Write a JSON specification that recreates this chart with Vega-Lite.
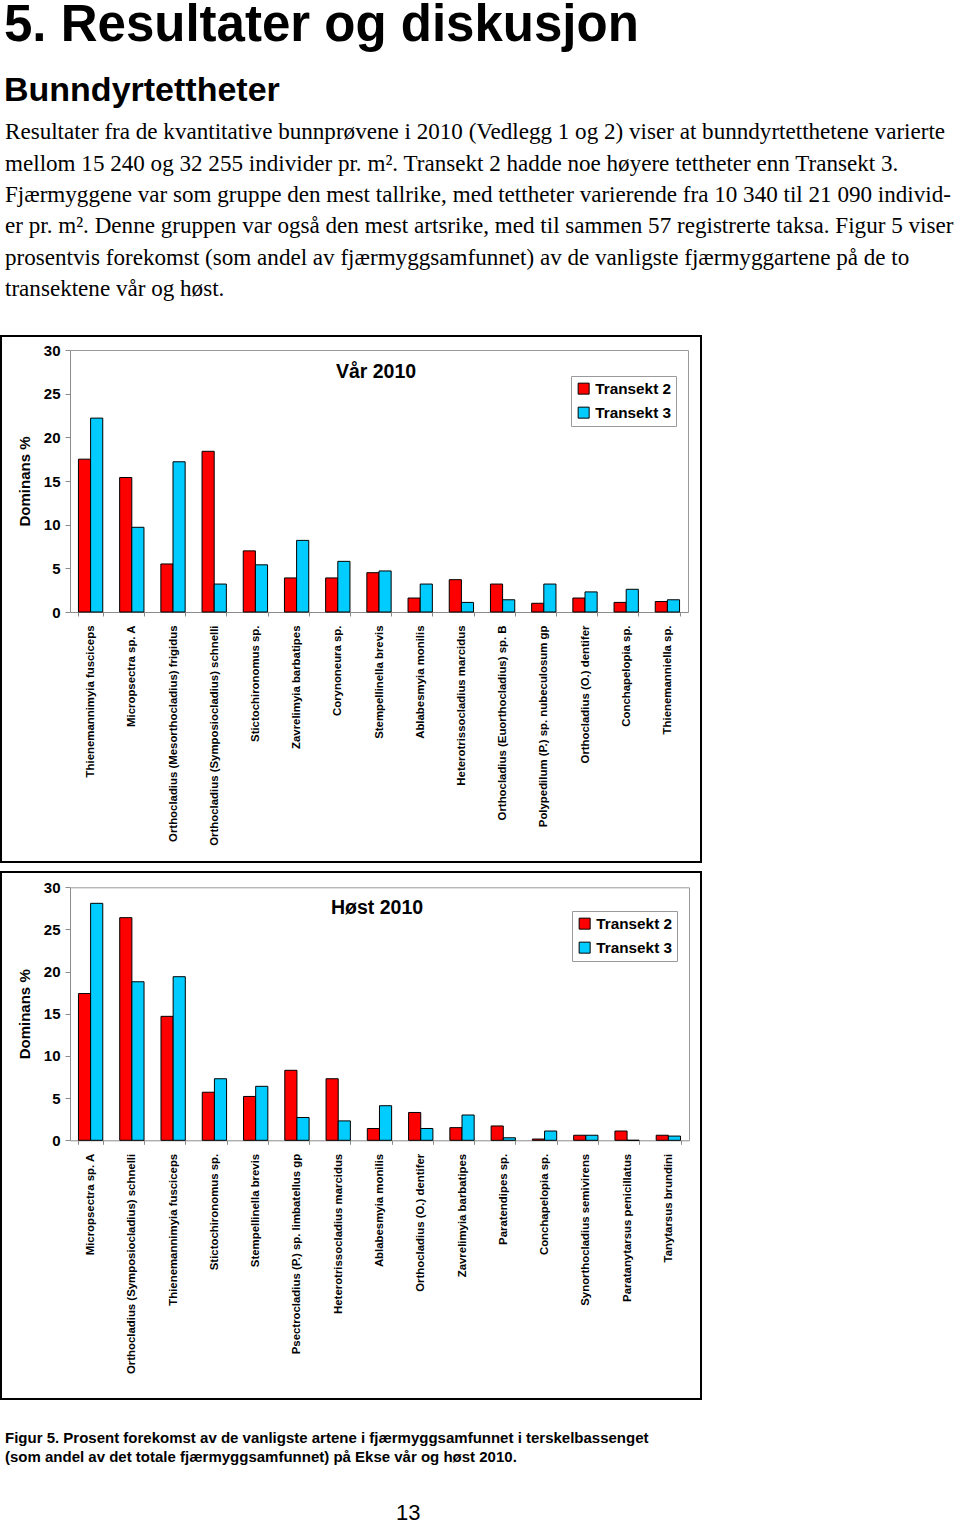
{
  "$schema": "https://vega.github.io/schema/vega-lite/v6.json",
  "padding": {"left": -6, "top": 0, "right": 0, "bottom": 0},
  "background": "white",
  "config": {
    "font": "Liberation Sans",
    "view": {"stroke": "black", "strokeWidth": 2},
    "title": {"color": "black"}
  },
  "datasets": {
    "var": [
      {"art": "Thienemannimyia fusciceps", "transekt": "Transekt 2", "dominans": 17.5},
      {"art": "Thienemannimyia fusciceps", "transekt": "Transekt 3", "dominans": 22.2},
      {"art": "Micropsectra sp. A", "transekt": "Transekt 2", "dominans": 15.4},
      {"art": "Micropsectra sp. A", "transekt": "Transekt 3", "dominans": 9.7},
      {"art": "Orthocladius (Mesorthocladius) frigidus", "transekt": "Transekt 2", "dominans": 5.5},
      {"art": "Orthocladius (Mesorthocladius) frigidus", "transekt": "Transekt 3", "dominans": 17.2},
      {"art": "Orthocladius (Symposiocladius) schnelli", "transekt": "Transekt 2", "dominans": 18.4},
      {"art": "Orthocladius (Symposiocladius) schnelli", "transekt": "Transekt 3", "dominans": 3.2},
      {"art": "Stictochironomus sp.", "transekt": "Transekt 2", "dominans": 7.0},
      {"art": "Stictochironomus sp.", "transekt": "Transekt 3", "dominans": 5.4},
      {"art": "Zavrelimyia barbatipes", "transekt": "Transekt 2", "dominans": 3.9},
      {"art": "Zavrelimyia barbatipes", "transekt": "Transekt 3", "dominans": 8.2},
      {"art": "Corynoneura sp.", "transekt": "Transekt 2", "dominans": 3.9},
      {"art": "Corynoneura sp.", "transekt": "Transekt 3", "dominans": 5.8},
      {"art": "Stempellinella brevis", "transekt": "Transekt 2", "dominans": 4.5},
      {"art": "Stempellinella brevis", "transekt": "Transekt 3", "dominans": 4.7},
      {"art": "Ablabesmyia monilis", "transekt": "Transekt 2", "dominans": 1.6},
      {"art": "Ablabesmyia monilis", "transekt": "Transekt 3", "dominans": 3.2},
      {"art": "Heterotrissocladius marcidus", "transekt": "Transekt 2", "dominans": 3.7},
      {"art": "Heterotrissocladius marcidus", "transekt": "Transekt 3", "dominans": 1.1},
      {"art": "Orthocladius (Euorthocladius) sp. B", "transekt": "Transekt 2", "dominans": 3.2},
      {"art": "Orthocladius (Euorthocladius) sp. B", "transekt": "Transekt 3", "dominans": 1.4},
      {"art": "Polypedilum (P.) sp. nubeculosum gp", "transekt": "Transekt 2", "dominans": 1.0},
      {"art": "Polypedilum (P.) sp. nubeculosum gp", "transekt": "Transekt 3", "dominans": 3.2},
      {"art": "Orthocladius (O.) dentifer", "transekt": "Transekt 2", "dominans": 1.6},
      {"art": "Orthocladius (O.) dentifer", "transekt": "Transekt 3", "dominans": 2.3},
      {"art": "Conchapelopia sp.", "transekt": "Transekt 2", "dominans": 1.1},
      {"art": "Conchapelopia sp.", "transekt": "Transekt 3", "dominans": 2.6},
      {"art": "Thienemanniella sp.", "transekt": "Transekt 2", "dominans": 1.2},
      {"art": "Thienemanniella sp.", "transekt": "Transekt 3", "dominans": 1.4}
    ],
    "host": [
      {"art": "Micropsectra sp. A", "transekt": "Transekt 2", "dominans": 17.4},
      {"art": "Micropsectra sp. A", "transekt": "Transekt 3", "dominans": 28.1},
      {"art": "Orthocladius (Symposiocladius) schnelli", "transekt": "Transekt 2", "dominans": 26.4},
      {"art": "Orthocladius (Symposiocladius) schnelli", "transekt": "Transekt 3", "dominans": 18.8},
      {"art": "Thienemannimyia fusciceps", "transekt": "Transekt 2", "dominans": 14.7},
      {"art": "Thienemannimyia fusciceps", "transekt": "Transekt 3", "dominans": 19.4},
      {"art": "Stictochironomus sp.", "transekt": "Transekt 2", "dominans": 5.7},
      {"art": "Stictochironomus sp.", "transekt": "Transekt 3", "dominans": 7.3},
      {"art": "Stempellinella brevis", "transekt": "Transekt 2", "dominans": 5.2},
      {"art": "Stempellinella brevis", "transekt": "Transekt 3", "dominans": 6.4},
      {"art": "Psectrocladius (P.) sp. limbatellus gp", "transekt": "Transekt 2", "dominans": 8.3},
      {"art": "Psectrocladius (P.) sp. limbatellus gp", "transekt": "Transekt 3", "dominans": 2.7},
      {"art": "Heterotrissocladius marcidus", "transekt": "Transekt 2", "dominans": 7.3},
      {"art": "Heterotrissocladius marcidus", "transekt": "Transekt 3", "dominans": 2.3},
      {"art": "Ablabesmyia monilis", "transekt": "Transekt 2", "dominans": 1.4},
      {"art": "Ablabesmyia monilis", "transekt": "Transekt 3", "dominans": 4.1},
      {"art": "Orthocladius (O.) dentifer", "transekt": "Transekt 2", "dominans": 3.3},
      {"art": "Orthocladius (O.) dentifer", "transekt": "Transekt 3", "dominans": 1.4},
      {"art": "Zavrelimyia barbatipes", "transekt": "Transekt 2", "dominans": 1.5},
      {"art": "Zavrelimyia barbatipes", "transekt": "Transekt 3", "dominans": 3.0},
      {"art": "Paratendipes sp.", "transekt": "Transekt 2", "dominans": 1.7},
      {"art": "Paratendipes sp.", "transekt": "Transekt 3", "dominans": 0.3},
      {"art": "Conchapelopia sp.", "transekt": "Transekt 2", "dominans": 0.15},
      {"art": "Conchapelopia sp.", "transekt": "Transekt 3", "dominans": 1.1},
      {"art": "Synorthocladius semivirens", "transekt": "Transekt 2", "dominans": 0.6},
      {"art": "Synorthocladius semivirens", "transekt": "Transekt 3", "dominans": 0.6},
      {"art": "Paratanytarsus penicillatus", "transekt": "Transekt 2", "dominans": 1.1},
      {"art": "Paratanytarsus penicillatus", "transekt": "Transekt 3", "dominans": 0},
      {"art": "Tanytarsus brundini", "transekt": "Transekt 2", "dominans": 0.6},
      {"art": "Tanytarsus brundini", "transekt": "Transekt 3", "dominans": 0.5}
    ]
  },
  "title": {
    "text": "5. Resultater og diskusjon",
    "subtitle": "Bunndyrtettheter",
    "anchor": "start",
    "font": "Liberation Sans",
    "fontSize": 51,
    "fontWeight": "bold",
    "subtitleFont": "Liberation Sans",
    "subtitleFontSize": 34,
    "subtitleFontWeight": "bold",
    "subtitleColor": "black",
    "subtitlePadding": 22,
    "offset": 10,
    "dx": 10,
    "dy": -2
  },
  "vconcat": [
    {
      "title": {
        "text": [
          "Resultater fra de kvantitative bunnprøvene i 2010 (Vedlegg 1 og 2) viser at bunndyrtetthetene varierte",
          "mellom 15 240 og 32 255 individer pr. m². Transekt 2 hadde noe høyere tettheter enn Transekt 3.",
          "Fjærmyggene var som gruppe den mest tallrike, med tettheter varierende fra 10 340 til 21 090 individ-",
          "er pr. m². Denne gruppen var også den mest artsrike, med til sammen 57 registrerte taksa. Figur 5 viser",
          "prosentvis forekomst (som andel av fjærmyggsamfunnet) av de vanligste fjærmyggartene på de to",
          "transektene vår og høst."
        ],
        "anchor": "start",
        "font": "Liberation Serif",
        "fontSize": 23.1,
        "fontWeight": "normal",
        "lineHeight": 31.3,
        "offset": 34,
        "dx": 11
      },
      "vconcat": [
        {
          "title": {
            "text": "13",
            "orient": "bottom",
            "anchor": "start",
            "font": "Liberation Sans",
            "fontSize": 22,
            "fontWeight": "normal",
            "offset": 38,
            "dx": 402
          },
          "vconcat": [
            {
              "title": {
                "text": [
                  "Figur 5. Prosent forekomst av de vanligste artene i fjærmyggsamfunnet i terskelbassenget",
                  "(som andel av det totale fjærmyggsamfunnet) på Ekse vår og høst 2010."
                ],
                "orient": "bottom",
                "anchor": "start",
                "font": "Liberation Sans",
                "fontSize": 15,
                "fontWeight": "bold",
                "lineHeight": 19,
                "offset": 31,
                "dx": 11
              },
              "spacing": 8,
              "resolve": {"scale": {"color": "independent", "x": "independent", "y": "independent"}, "legend": {"color": "independent"}},
              "vconcat": [
                {
                  "width": 700,
                  "height": 526,
                  "data": {"name": "var"},
                  "title": {"text": "Vår 2010", "font": "Liberation Sans", "fontSize": 19.5, "fontWeight": "bold", "anchor": "middle", "dx": 25, "offset": -46},
                  "resolve": {"axis": {"x": "independent", "y": "independent"}},
                  "layer": [
                    {
                      "mark": {"type": "bar", "stroke": "black", "strokeWidth": 1},
                      "encoding": {
                        "x": {
                          "field": "art", "type": "nominal", "sort": null,
                          "scale": {"range": [69, 687], "paddingInner": 0.41, "paddingOuter": 0.205},
                          "axis": {"orient": "bottom", "offset": -250, "title": null, "labelAngle": 270, "labelFont": "Liberation Sans", "labelFontSize": 11.4, "labelFontWeight": "bold", "labelColor": "black", "labelLimit": 0, "labelOverlap": false, "tickBand": "extent", "tickSize": 4, "labelPadding": 9, "domainColor": "#8c8c8c", "tickColor": "#8c8c8c"}
                        },
                        "xOffset": {"field": "transekt", "type": "nominal", "scale": {"paddingInner": 0, "paddingOuter": 0}},
                        "y": {
                          "field": "dominans", "type": "quantitative",
                          "scale": {"domain": [0, 30], "range": [276, 14], "nice": false, "zero": true},
                          "axis": {"orient": "left", "offset": -69, "values": [0, 5, 10, 15, 20, 25, 30], "grid": false, "title": "Dominans %", "titleFont": "Liberation Sans", "titleFontSize": 15, "titleFontWeight": "bold", "titleColor": "black", "titlePadding": 11, "labelFont": "Liberation Sans", "labelFontSize": 15, "labelFontWeight": "bold", "labelColor": "black", "tickSize": 5, "labelPadding": 5, "domainColor": "#8c8c8c", "tickColor": "#8c8c8c"}
                        },
                        "color": {
                          "field": "transekt", "type": "nominal",
                          "scale": {"domain": ["Transekt 2", "Transekt 3"], "range": ["#ff0000", "#00ccff"]},
                          "legend": {"title": null, "orient": "none", "legendX": 570, "legendY": 40, "strokeColor": "#9a9a9a", "fillColor": "white", "padding": 5, "symbolType": "square", "symbolSize": 121, "symbolStrokeColor": "black", "symbolStrokeWidth": 1, "labelFont": "Liberation Sans", "labelFontSize": 15.3, "labelFontWeight": "bold", "labelColor": "black", "rowPadding": 8, "labelOffset": 4}
                        }
                      }
                    },
                    {
                      "mark": {"type": "point", "opacity": 0},
                      "encoding": {
                        "x": {"field": "art", "type": "nominal", "sort": null, "axis": {"orient": "top", "offset": -14, "title": null, "labels": false, "ticks": false, "domainColor": "#9a9a9a"}},
                        "y": {"field": "dominans", "type": "quantitative", "axis": {"orient": "right", "offset": -13, "title": null, "labels": false, "ticks": false, "grid": false, "domainColor": "#9a9a9a"}}
                      }
                    }
                  ]
                },
                {
                  "width": 700,
                  "height": 527,
                  "data": {"name": "host"},
                  "title": {"text": "Høst 2010", "font": "Liberation Sans", "fontSize": 19.5, "fontWeight": "bold", "anchor": "middle", "dx": 26, "offset": -46},
                  "resolve": {"axis": {"x": "independent", "y": "independent"}},
                  "layer": [
                    {
                      "mark": {"type": "bar", "stroke": "black", "strokeWidth": 1},
                      "encoding": {
                        "x": {
                          "field": "art", "type": "nominal", "sort": null,
                          "scale": {"range": [69, 688], "paddingInner": 0.41, "paddingOuter": 0.205},
                          "axis": {"orient": "bottom", "offset": -258.7, "title": null, "labelAngle": 270, "labelFont": "Liberation Sans", "labelFontSize": 11.4, "labelFontWeight": "bold", "labelColor": "black", "labelLimit": 0, "labelOverlap": false, "tickBand": "extent", "tickSize": 4, "labelPadding": 9, "domainColor": "#8c8c8c", "tickColor": "#8c8c8c"}
                        },
                        "xOffset": {"field": "transekt", "type": "nominal", "scale": {"paddingInner": 0, "paddingOuter": 0}},
                        "y": {
                          "field": "dominans", "type": "quantitative",
                          "scale": {"domain": [0, 30], "range": [268.3, 15.3], "nice": false, "zero": true},
                          "axis": {"orient": "left", "offset": -69, "values": [0, 5, 10, 15, 20, 25, 30], "grid": false, "title": "Dominans %", "titleFont": "Liberation Sans", "titleFontSize": 15, "titleFontWeight": "bold", "titleColor": "black", "titlePadding": 11, "labelFont": "Liberation Sans", "labelFontSize": 15, "labelFontWeight": "bold", "labelColor": "black", "tickSize": 5, "labelPadding": 5, "domainColor": "#8c8c8c", "tickColor": "#8c8c8c"}
                        },
                        "color": {
                          "field": "transekt", "type": "nominal",
                          "scale": {"domain": ["Transekt 2", "Transekt 3"], "range": ["#ff0000", "#00ccff"]},
                          "legend": {"title": null, "orient": "none", "legendX": 571, "legendY": 39, "strokeColor": "#9a9a9a", "fillColor": "white", "padding": 5, "symbolType": "square", "symbolSize": 121, "symbolStrokeColor": "black", "symbolStrokeWidth": 1, "labelFont": "Liberation Sans", "labelFontSize": 15.3, "labelFontWeight": "bold", "labelColor": "black", "rowPadding": 8, "labelOffset": 4}
                        }
                      }
                    },
                    {
                      "mark": {"type": "point", "opacity": 0},
                      "encoding": {
                        "x": {"field": "art", "type": "nominal", "sort": null, "axis": {"orient": "top", "offset": -15.3, "title": null, "labels": false, "ticks": false, "domainColor": "#9a9a9a"}},
                        "y": {"field": "dominans", "type": "quantitative", "axis": {"orient": "right", "offset": -12, "title": null, "labels": false, "ticks": false, "grid": false, "domainColor": "#9a9a9a"}}
                      }
                    }
                  ]
                }
              ]
            }
          ]
        }
      ]
    }
  ]
}
